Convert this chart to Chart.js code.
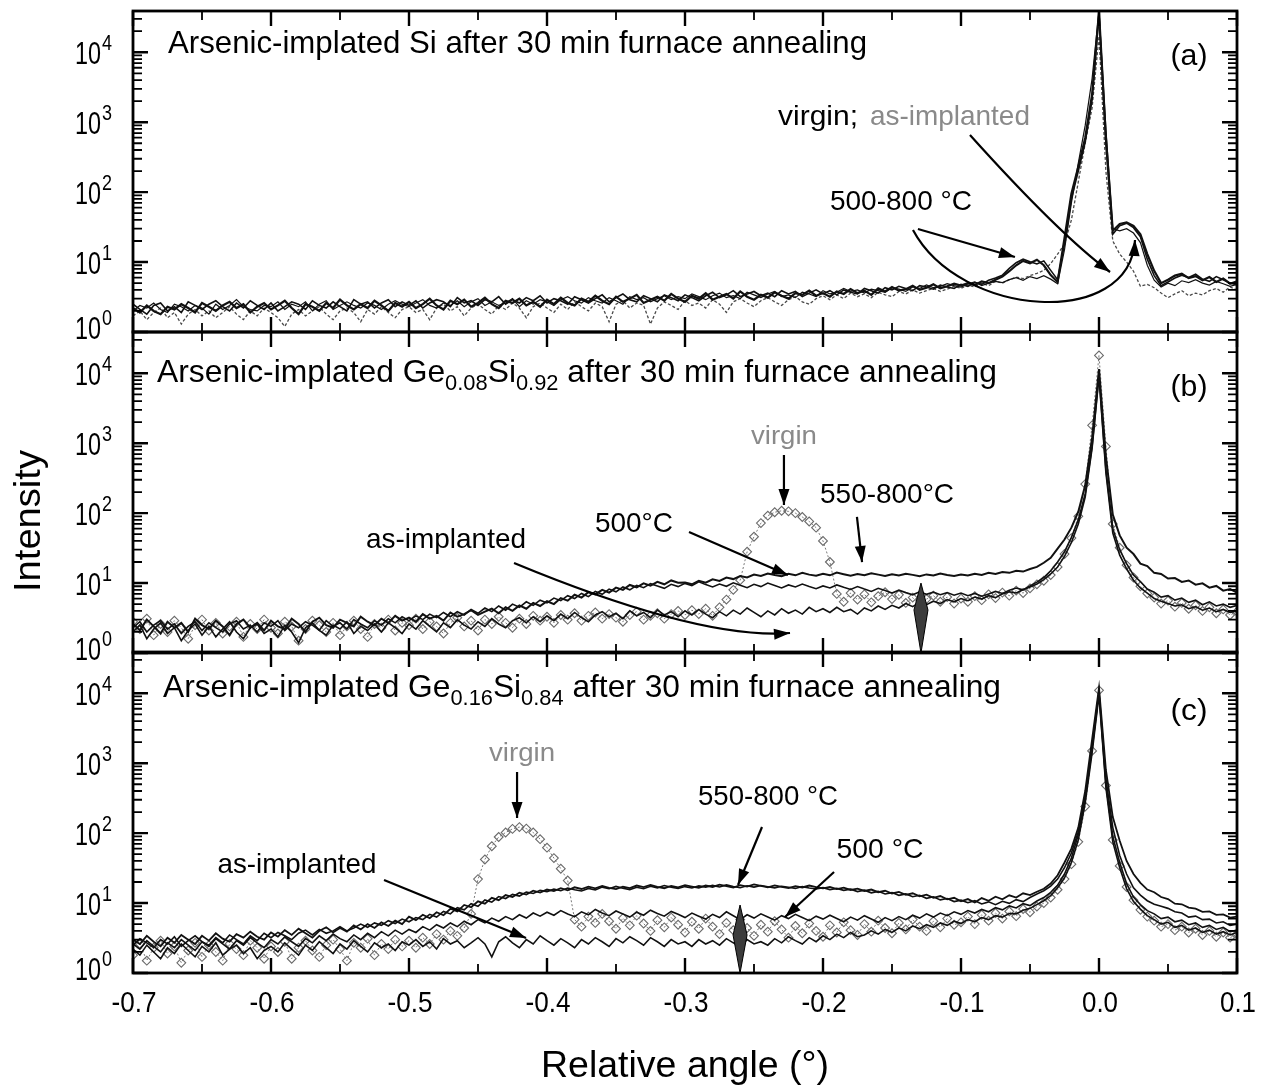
<!DOCTYPE html>
<html>
<head>
<meta charset="utf-8">
<script src="https://cdn.jsdelivr.net/npm/chart.js@4.4.0/dist/chart.umd.min.js"></script>
<style>
  body { margin: 0; background: #fff; }
  #wrap { position: relative; width: 1264px; height: 1092px; }
  #wrap canvas { position: absolute; left: 0; top: 0; }
</style>
</head>
<body>
<div id="wrap">
  <canvas id="panelA" width="1264" height="1092"></canvas>
  <canvas id="panelB" width="1264" height="1092"></canvas>
  <canvas id="panelC" width="1264" height="1092"></canvas>
</div>
<script>
/* ------------------- RELATIVE ANGLE (deg) ------------------- */
const angle = [
  -0.7,-0.695,-0.69,-0.685,-0.68,-0.675,-0.67,-0.665,-0.66,-0.655,-0.65,-0.645,-0.64,-0.635,-0.63,-0.625,-0.62,-0.615,-0.61,-0.605,
  -0.6,-0.595,-0.59,-0.585,-0.58,-0.575,-0.57,-0.565,-0.56,-0.555,-0.55,-0.545,-0.54,-0.535,-0.53,-0.525,-0.52,-0.515,-0.51,-0.505,
  -0.5,-0.495,-0.49,-0.485,-0.48,-0.475,-0.47,-0.465,-0.46,-0.455,-0.45,-0.445,-0.44,-0.435,-0.43,-0.425,-0.42,-0.415,-0.41,-0.405,
  -0.4,-0.395,-0.39,-0.385,-0.38,-0.375,-0.37,-0.365,-0.36,-0.355,-0.35,-0.345,-0.34,-0.335,-0.33,-0.325,-0.32,-0.315,-0.31,-0.305,
  -0.3,-0.295,-0.29,-0.285,-0.28,-0.275,-0.27,-0.265,-0.26,-0.255,-0.25,-0.245,-0.24,-0.235,-0.23,-0.225,-0.22,-0.215,-0.21,-0.205,
  -0.2,-0.195,-0.19,-0.185,-0.18,-0.175,-0.17,-0.165,-0.16,-0.155,-0.15,-0.145,-0.14,-0.135,-0.13,-0.125,-0.12,-0.115,-0.11,-0.105,
  -0.1,-0.095,-0.09,-0.085,-0.08,-0.075,-0.07,-0.065,-0.06,-0.055,-0.05,-0.045,-0.04,-0.035,-0.03,-0.025,-0.02,-0.015,-0.01,-0.005,
  0,0.005,0.01,0.015,0.02,0.025,0.03,0.035,0.04,0.045,0.05,0.055,0.06,0.065,0.07,0.075,0.08,0.085,0.09,0.095,
  0.1
];

/* ------------------- (a) As-implanted Si ------------------- */
const siAnnealHi = [
  2.2,1.9,2.4,2.0,1.8,2.3,2.1,2.5,2.2,1.9,2.6,2.3,2.0,2.4,2.7,2.2,2.5,1.9,2.3,2.6,
  2.1,2.4,2.8,2.2,1.8,2.5,2.3,2.0,2.6,2.2,2.9,2.4,2.1,2.5,2.2,2.8,2.4,2.0,2.6,2.3,
  2.7,2.2,2.5,3.0,2.4,2.1,2.8,2.5,2.9,2.3,2.6,3.1,2.5,2.2,2.8,2.6,3.0,2.4,2.7,2.3,
  2.9,2.5,3.1,2.6,2.4,3.0,2.7,3.3,2.8,2.5,3.2,2.7,3.0,3.4,2.6,2.9,3.2,2.8,3.5,3.0,
  2.7,3.3,3.0,3.6,2.9,3.2,3.5,3.0,3.8,3.2,2.9,3.4,3.1,3.7,3.3,3.0,3.6,3.4,3.9,3.3,
  3.6,3.2,3.8,3.5,4.1,3.6,3.9,3.4,4.2,3.8,4.4,3.9,4.1,4.6,4.0,4.3,4.8,4.2,4.5,4.9,
  4.6,5.0,4.7,5.3,5.0,5.6,6.2,7.4,9.0,10.4,9.6,10.8,9.0,6.5,5.2,22,95,230,600,2500,
  38000,600,28,35,37,33,25,13,7.5,5.0,5.6,6.4,6.8,5.9,6.3,5.5,6.1,5.2,5.8,4.9,
  5.3
];
const siAnnealLo = [
  2.5,2.1,1.8,2.4,2.6,2.0,2.3,1.9,2.7,2.4,2.1,2.5,2.8,2.3,2.0,2.6,2.2,2.8,2.4,2.1,
  2.6,2.0,2.3,2.7,2.5,2.1,2.8,2.4,2.2,2.7,2.3,2.0,2.9,2.5,2.7,2.2,2.6,2.9,2.3,2.7,
  2.4,2.8,2.2,2.6,2.9,2.7,2.3,3.1,2.6,2.8,2.4,2.9,2.7,3.2,2.5,2.9,2.6,3.1,2.8,3.3,
  2.6,3.0,2.8,2.5,3.2,2.9,2.6,3.0,3.4,2.7,3.1,3.5,2.9,2.7,3.3,3.0,2.7,3.4,3.1,2.8,
  3.4,3.1,2.8,3.3,3.7,3.1,3.4,3.9,3.2,3.5,3.8,3.3,3.6,3.2,3.9,3.5,3.8,3.2,3.6,4.0,
  3.5,3.9,3.4,4.0,3.7,3.5,4.2,3.9,3.6,4.3,4.0,4.5,4.2,3.9,4.6,4.4,4.1,4.7,4.4,4.2,
  4.8,4.5,5.1,4.8,5.5,5.9,6.5,8.1,9.8,11.0,10.1,9.4,10.4,7.6,5.6,18,80,200,520,2100,
  36000,500,25,33,36,31,23,11,6.4,4.6,5.2,5.9,6.5,6.0,6.7,5.7,5.3,6.2,5.6,5.0,
  4.7
];
const siVirgin = [
  2.0,2.4,2.2,2.6,2.1,1.9,2.5,2.3,2.0,2.4,2.2,1.8,2.5,2.1,2.4,2.9,2.3,2.1,2.0,2.4,
  2.3,2.7,2.1,2.5,2.3,2.7,2.0,2.5,2.8,2.1,2.4,2.7,2.4,2.2,2.6,2.4,2.1,2.5,2.8,2.5,
  2.3,2.6,2.9,2.4,2.2,2.6,2.4,2.8,2.3,2.7,3.0,2.4,2.7,2.4,2.6,3.0,2.3,2.8,2.5,2.9,
  2.7,2.4,2.9,3.2,2.8,2.6,3.1,2.8,2.6,3.1,2.8,2.5,3.2,2.9,3.1,2.7,3.0,3.3,2.9,3.2,
  3.0,3.5,3.2,2.9,3.3,3.6,3.1,3.3,3.0,3.7,3.4,3.1,3.5,3.8,3.2,3.4,3.1,3.7,3.5,3.2,
  3.9,3.5,3.7,4.2,3.8,4.0,3.6,4.1,3.9,3.7,4.3,4.1,3.8,4.4,4.2,4.7,4.3,4.5,4.9,4.6,
  4.4,4.9,5.2,4.6,5.0,5.3,5.1,5.6,6.0,5.5,6.2,5.8,6.4,5.7,4.9,15,70,260,900,4200,
  39000,800,30,28,30,26,19,9,5.5,4.4,5.0,4.6,5.4,5.1,5.6,5.0,4.7,5.3,4.9,4.5,
  4.8
];
const siImplanted = [
  1.7,2.0,1.5,1.9,2.2,1.6,1.9,1.3,1.8,2.1,1.7,2.0,1.6,1.9,2.3,1.8,1.5,2.0,1.7,2.2,
  1.9,1.6,1.2,1.8,2.1,1.7,2.0,2.3,1.8,1.5,2.0,2.2,1.9,1.4,2.1,1.8,2.3,1.9,1.6,2.1,
  2.3,1.9,2.1,1.5,2.2,2.5,2.0,2.3,1.7,2.2,2.5,2.1,1.8,2.4,2.1,2.6,2.2,1.6,2.3,2.6,
  2.2,1.9,2.5,2.1,2.7,2.3,2.0,2.6,2.3,1.4,2.5,2.8,2.2,2.6,2.4,1.3,2.2,2.7,2.4,2.1,
  2.8,2.4,2.6,2.2,2.9,2.5,1.9,2.7,3.0,2.6,2.3,2.8,3.1,2.7,2.4,2.9,3.2,2.7,2.5,3.0,
  3.3,2.9,3.4,3.0,3.6,3.2,3.5,3.1,3.7,3.4,3.2,3.8,3.5,4.0,3.6,3.9,4.2,3.8,4.1,4.5,
  4.2,4.7,4.4,5.0,4.6,5.3,5.0,5.6,6.1,5.8,6.4,6.9,7.6,9.5,13,18,40,140,500,1600,
  17000,200,20,13,10,7.4,4.5,4.8,4.3,3.6,3.1,3.5,3.9,3.3,3.6,3.4,3.9,4.2,3.7,4.4,
  4.0
];

/* ------------------- (b) Ge0.08Si0.92 ------------------- */
const ge08Anneal800 = [
  2.6,2.1,3.0,2.4,1.9,2.8,2.3,2.7,2.0,3.1,2.5,2.2,2.9,2.4,1.8,2.6,3.0,2.3,2.7,2.1,
  2.9,2.4,2.2,3.1,2.6,2.0,2.8,3.2,2.5,2.3,3.0,2.7,2.4,3.3,2.8,2.5,3.1,2.7,3.4,2.9,
  3.2,2.8,3.6,3.1,3.4,2.9,3.8,3.3,3.6,4.1,3.5,3.9,4.3,3.7,4.5,4.0,4.8,4.3,5.2,4.7,
  5.5,5.0,6.1,5.6,6.8,6.2,7.4,6.9,8.0,7.3,8.6,8.0,9.4,8.7,9.9,9.2,10.4,9.6,10.9,10.1,
  10.2,9.6,10.8,10.1,11.3,10.7,12.0,11.4,12.6,12.0,13.2,12.6,13.7,13.0,12.5,13.6,12.9,14.0,13.2,12.7,
  13.6,12.9,14.1,13.4,12.7,13.5,12.9,13.8,13.2,12.6,13.4,12.8,13.6,13.1,12.5,13.3,12.8,13.7,13.0,12.6,
  13.2,12.8,13.6,13.1,14.0,13.5,14.4,14.0,15.0,14.6,15.9,17.0,19.5,23,31,42,62,105,250,1200,
  11500,650,95,48,32,26,19,17.5,14,13.5,11.6,11.8,10.4,10.9,9.5,9.9,8.6,9.1,7.8,8.2,
  7.3
];
const ge08Anneal500 = [
  2.3,2.8,2.0,2.5,2.9,2.2,2.6,1.9,2.4,2.8,2.1,2.7,2.3,2.0,2.6,2.9,2.2,2.5,2.0,2.7,
  2.4,2.9,2.1,2.6,2.3,2.8,2.5,2.1,2.9,2.4,2.7,2.2,3.0,2.6,2.3,2.9,2.5,3.1,2.7,3.3,
  2.9,3.4,3.0,3.6,3.2,3.8,3.3,3.9,3.5,4.2,3.7,4.4,3.9,4.7,4.1,5.0,4.5,5.4,4.8,5.7,
  5.2,6.1,5.6,6.6,6.0,7.1,6.4,7.6,6.9,8.2,7.5,8.8,8.0,9.3,8.6,9.8,9.1,8.4,9.6,8.9,
  9.9,9.2,10.4,9.5,8.8,9.7,9.0,10.1,9.3,8.6,9.6,8.9,10.0,9.2,8.5,9.4,8.8,9.7,8.9,8.3,
  9.1,8.5,9.4,8.7,8.1,8.9,8.2,7.6,8.4,7.8,7.2,7.9,7.3,6.8,7.5,6.9,7.4,6.8,7.3,6.7,
  7.2,6.6,7.1,6.5,7.0,7.6,7.1,7.9,8.5,8.0,9.1,10.3,12.0,15,20,28,45,80,190,900,
  9500,420,60,30,19,13,10.5,8.2,7.4,6.3,6.6,5.7,6.1,5.3,5.7,4.9,5.4,4.7,5.0,4.5,
  4.8
];
const ge08Implanted = [
  2.0,2.5,1.6,2.2,2.7,1.9,2.3,1.5,2.1,2.6,1.8,2.4,1.7,2.2,2.8,2.0,1.6,2.3,2.6,1.9,
  2.2,1.7,2.5,2.0,1.4,2.3,2.7,2.1,1.8,2.5,2.2,2.8,1.9,2.4,2.1,2.6,2.0,2.7,2.3,1.9,
  2.6,2.2,2.9,2.4,2.0,2.7,2.3,3.0,2.5,2.2,2.8,2.4,3.1,2.6,2.3,2.9,3.2,2.7,3.3,2.8,
  3.4,2.9,3.6,3.1,3.8,3.2,2.8,3.5,3.9,3.3,3.7,3.1,4.0,3.4,3.8,3.2,4.1,3.5,3.9,3.3,
  4.0,3.5,4.2,3.6,3.2,3.9,3.4,4.1,3.6,4.4,3.8,3.3,4.0,3.5,4.3,3.7,4.1,3.6,4.5,3.9,
  4.3,3.8,4.5,3.9,4.2,3.6,4.4,4.0,4.7,4.2,4.8,4.4,5.1,4.6,5.3,4.9,5.5,5.1,5.8,5.4,
  6.0,5.6,6.3,5.9,6.6,6.2,7.0,7.5,7.2,8.0,8.8,9.7,11.2,13.5,17,24,38,70,170,850,
  9000,380,52,25,16,11,8.5,7.2,6.0,5.5,5.1,4.7,4.9,4.3,4.6,4.1,4.4,3.9,4.2,3.8,
  4.0
];
const ge08Virgin = [
  2.8,2.2,3.1,1.8,2.6,2.0,2.9,2.3,1.6,2.5,3.0,2.1,2.7,1.9,2.4,2.8,1.7,2.6,2.2,3.0,
  2.3,1.9,2.8,2.4,1.5,2.2,2.9,2.5,2.0,2.7,1.8,2.4,2.9,2.2,1.7,2.6,2.3,3.0,2.1,2.7,
  2.5,3.1,2.2,2.8,2.4,1.9,2.7,3.2,2.4,2.9,2.1,3.0,2.6,3.3,2.7,2.3,3.1,2.6,3.4,2.9,
  3.3,2.7,3.5,3.0,3.7,2.9,3.4,3.8,3.1,3.6,3.2,2.8,3.5,3.9,3.0,3.4,3.7,3.1,3.6,4.0,
  3.5,4.1,3.6,4.3,3.4,4.5,5.8,8.0,11,28,46,72,92,103,108,106,100,88,76,62,
  40,20,7.0,5.4,7.2,5.8,6.9,5.3,6.5,7.4,5.9,6.8,5.2,6.2,4.8,5.9,6.6,5.4,6.3,5.1,
  6.0,5.4,6.5,5.7,6.9,6.1,7.3,6.6,7.8,7.2,8.4,9.6,10.8,13,17,26,44,90,260,1800,
  18000,900,70,32,18,12,9.0,7.1,6.2,5.1,5.6,4.6,5.2,4.3,4.8,4.0,4.5,3.7,4.2,3.5,
  3.9
];

/* ------------------- (c) Ge0.16Si0.84 ------------------- */
const ge16Anneal800a = [
  3.0,2.6,3.4,2.8,2.4,3.2,2.7,3.5,3.0,2.6,3.4,2.9,3.7,3.1,2.8,3.6,3.2,3.9,3.3,3.0,
  3.8,3.3,4.1,3.5,4.3,3.7,3.2,4.0,4.5,3.8,4.4,3.9,4.8,4.2,5.0,4.4,5.3,4.7,5.6,5.0,
  6.4,5.7,6.8,6.1,7.4,6.7,8.3,7.6,9.4,8.7,10.6,9.8,11.9,11.0,13.0,12.2,14.1,13.2,15.0,14.1,
  15.6,14.8,16.3,15.2,16.8,15.9,17.2,16.2,17.6,16.5,15.8,17.1,16.4,17.8,16.9,18.2,17.1,16.3,17.6,16.8,
  18.0,17.2,16.5,17.8,17.0,18.3,17.4,16.7,18.0,17.2,18.5,17.6,16.8,17.9,17.1,16.4,17.5,16.7,17.8,16.9,
  16.2,17.0,15.8,16.6,15.4,16.1,14.9,15.6,14.3,15.0,13.7,14.4,13.1,13.8,12.5,13.2,11.9,12.6,11.3,11.9,
  10.6,11.4,10.2,11.8,10.8,12.3,11.3,12.9,12.0,13.8,13.0,14.5,16,19,25,38,60,120,400,2200,
  12000,800,170,78,40,26,19.5,15.6,14.3,12.2,11.4,9.8,9.6,8.6,8.3,7.5,7.6,6.8,6.9,6.2,
  6.4
];
const ge16Anneal800b = [
  2.5,3.1,2.7,2.3,3.0,2.6,3.3,2.4,2.9,3.4,2.8,2.5,3.2,2.7,3.5,3.0,2.6,3.4,2.9,3.7,
  3.2,3.8,3.4,3.0,3.7,4.1,3.5,4.2,3.7,4.0,4.6,4.0,4.4,5.0,4.5,5.2,4.8,5.6,5.1,5.9,
  5.4,6.2,5.8,6.9,6.3,7.6,7.0,8.6,8.0,9.8,9.0,11.1,10.3,12.4,11.6,13.3,12.6,14.4,13.7,15.2,
  14.6,15.8,15.0,16.4,15.5,14.9,16.2,15.4,16.9,16.0,17.3,16.3,15.6,16.8,16.0,17.4,16.5,17.8,16.8,16.2,
  17.2,16.4,17.6,16.9,17.9,17.0,18.2,17.3,16.6,17.7,16.9,17.8,17.1,16.5,17.4,16.8,16.2,17.2,16.4,15.9,
  16.6,15.6,16.2,15.2,15.8,14.6,15.3,14.0,14.7,13.5,14.1,12.9,13.5,12.3,12.9,11.7,12.3,11.1,11.6,10.5,
  11.0,10.1,10.8,9.7,10.4,9.5,10.6,9.9,11.2,10.5,12.0,13.5,15,17.5,22,32,52,105,330,1800,
  10500,600,120,48,26,16.5,13,10.8,9.6,9.0,8.4,7.5,7.2,6.3,6.5,5.8,5.9,5.2,5.4,4.8,
  5.0
];
const ge16Anneal500 = [
  2.6,2.2,2.9,2.4,2.0,2.7,2.3,3.0,2.5,2.1,2.8,2.4,3.1,2.6,2.2,2.9,2.5,3.2,2.7,2.3,
  3.0,2.6,3.3,2.8,2.4,3.1,2.7,3.4,2.9,3.6,3.1,2.8,3.5,3.0,3.7,3.2,3.9,3.4,4.1,3.6,
  4.2,3.8,4.6,4.1,4.9,4.4,5.2,4.6,5.5,4.9,5.8,5.2,6.1,5.5,6.4,5.8,6.8,6.1,7.2,6.5,
  7.4,6.7,7.8,7.0,6.4,7.5,6.8,8.1,7.2,6.6,7.7,7.0,6.3,7.4,6.7,7.9,7.1,6.5,7.6,6.9,
  6.2,7.2,6.5,5.9,6.9,6.2,7.5,6.6,5.8,6.8,6.1,7.0,6.3,5.7,6.6,6.0,6.9,6.2,5.6,6.5,
  5.9,6.7,6.0,5.4,6.3,5.7,6.6,5.9,5.3,6.2,5.6,6.4,5.8,6.7,6.1,7.0,6.3,7.2,6.6,7.5,
  6.9,7.8,7.2,8.1,7.5,8.6,8.0,9.1,8.5,9.8,9.2,10.7,12.0,14.2,18,26,44,95,310,1600,
  10000,500,90,38,19,12.2,9.5,7.8,7.0,6.0,6.3,5.4,5.7,4.9,5.2,4.5,4.8,4.2,4.5,3.9,
  4.1
];
const ge16Implanted = [
  2.2,1.8,2.5,2.0,1.6,2.3,1.9,2.6,2.1,1.7,2.4,2.0,2.7,1.8,2.2,2.5,1.9,2.3,1.6,2.1,
  2.4,2.0,2.7,2.2,1.8,2.5,2.1,2.8,2.3,1.9,2.6,2.2,2.9,2.4,2.0,2.7,2.3,2.6,2.1,2.8,
  2.5,3.0,2.4,2.8,2.2,3.1,2.6,2.9,2.3,2.7,3.2,2.6,1.7,2.8,3.3,2.7,2.3,3.0,2.6,3.4,
  2.9,2.5,3.1,2.7,2.3,3.0,2.6,3.2,2.8,2.4,3.1,2.7,3.3,2.9,2.5,3.2,2.8,2.4,3.0,2.6,
  2.8,2.4,3.0,2.6,2.9,2.5,3.1,2.7,2.4,3.0,2.6,2.8,2.5,3.1,2.7,3.3,2.9,2.6,3.2,2.8,
  3.4,3.0,3.6,3.2,3.8,3.3,3.5,4.0,3.6,4.2,3.8,4.4,4.0,4.7,4.3,4.9,4.5,5.2,4.8,5.5,
  5.1,5.8,5.4,6.2,5.8,6.6,6.3,7.1,7.0,7.9,8.4,9.5,10.8,12.8,16.5,23,38,80,270,1400,
  9500,450,75,32,16,10.5,8.2,6.6,5.8,5.0,5.3,4.5,4.8,4.1,4.4,3.8,4.1,3.6,3.9,3.5,
  3.8
];
const ge16Virgin = [
  1.8,2.6,1.5,2.3,2.9,1.9,2.4,1.4,2.1,2.7,1.7,2.5,2.0,1.5,2.6,2.2,1.8,2.9,2.3,1.6,
  2.4,2.0,2.8,1.6,2.3,2.9,2.1,1.7,2.5,3.0,2.2,1.5,2.7,2.3,3.1,1.8,2.6,2.2,3.0,2.4,
  2.9,2.3,3.2,2.6,3.6,3.0,4.0,3.4,4.4,7.0,22,42,65,88,102,115,122,116,102,82,
  62,44,31,21,5.8,4.6,6.4,5.2,7.0,5.5,4.3,6.1,4.8,6.6,5.1,4.0,5.7,4.5,6.2,4.9,
  3.8,5.4,4.3,6.0,4.6,3.6,5.2,4.1,5.8,4.4,3.4,4.9,3.9,5.5,4.2,3.2,4.7,3.7,5.1,4.0,
  3.3,4.8,3.8,5.3,4.1,3.5,5.0,3.9,5.6,4.4,3.7,5.2,4.2,5.8,4.6,4.0,5.5,4.5,6.0,4.9,
  5.3,6.4,5.0,6.8,5.6,7.2,6.0,7.6,6.5,8.2,7.4,8.9,10.0,12.0,15.5,22,36,75,240,1500,
  11000,480,80,34,17,11,8.0,6.4,5.6,4.6,5.0,4.1,4.6,3.8,4.3,3.5,4.0,3.3,3.8,3.2,
  3.6
];

/* ------------------- AXES ------------------- */
const xTickValues = [-0.7, -0.6, -0.5, -0.4, -0.3, -0.2, -0.1, 0.0, 0.1];
const xTickLabels = ["-0.7", "-0.6", "-0.5", "-0.4", "-0.3", "-0.2", "-0.1", "0.0", "0.1"];
const yDecades = [1, 10, 100, 1000, 10000];
const yExponents = ["0", "1", "2", "3", "4"];
const Y_MAX = 38900;

/* ------------------- HELPERS ------------------- */
const FONT = "'Liberation Sans', Arial, Helvetica, sans-serif";

function pts(vals) {
  return angle.map((x, i) => ({ x, y: vals[i] }));
}

function solid(vals, w) {
  return { data: pts(vals), borderColor: "#111", borderWidth: w, pointRadius: 0, tension: 0 };
}

function dotted(vals) {
  return { data: pts(vals), borderColor: "#4a4a4a", borderWidth: 1.3, borderDash: [3, 2], pointRadius: 0, tension: 0 };
}

function diamonds(vals) {
  return {
    data: pts(vals), borderColor: "#7a7a7a", borderWidth: 1, borderDash: [2, 2], tension: 0,
    pointStyle: "rectRot", pointRadius: 4.4, pointBorderWidth: 1.1,
    pointBorderColor: "#6a6a6a", pointBackgroundColor: "rgba(255,255,255,0)"
  };
}

// draw text squeezed/stretched to a given advance width
function fitText(ctx, str, x, base, size, width, color, align) {
  ctx.save();
  ctx.font = size + "px " + FONT;
  const natural = ctx.measureText(str).width;
  ctx.translate(x, base);
  ctx.scale(width ? width / natural : 1, 1);
  ctx.textAlign = align || "center";
  ctx.textBaseline = "alphabetic";
  ctx.fillStyle = color || "#000";
  ctx.fillText(str, 0, 0);
  ctx.restore();
}

// title with subscripts, laid out left to right and fitted to width
function drawTitle(ctx, parts, left, base, size, width) {
  const subSize = Math.round(size * 0.68);
  ctx.save();
  const widths = parts.map((p) => {
    ctx.font = (p.sub ? subSize : size) + "px " + FONT;
    return ctx.measureText(p.t).width;
  });
  const total = widths.reduce((s, w) => s + w, 0);
  ctx.translate(left, base);
  ctx.scale(width / total, 1);
  ctx.fillStyle = "#000";
  ctx.textAlign = "left";
  ctx.textBaseline = "alphabetic";
  let cx = 0;
  parts.forEach((p, i) => {
    ctx.font = (p.sub ? subSize : size) + "px " + FONT;
    ctx.fillText(p.t, cx, p.sub ? size * 0.24 : 0);
    cx += widths[i];
  });
  ctx.restore();
}

function drawArrow(ctx, p) {
  ctx.beginPath();
  ctx.moveTo(p[0][0], p[0][1]);
  if (p.length === 2) ctx.lineTo(p[1][0], p[1][1]);
  else if (p.length === 3) ctx.quadraticCurveTo(p[1][0], p[1][1], p[2][0], p[2][1]);
  else ctx.bezierCurveTo(p[1][0], p[1][1], p[2][0], p[2][1], p[3][0], p[3][1]);
  ctx.stroke();

  const tip = p[p.length - 1], from = p[p.length - 2];
  const a = Math.atan2(tip[1] - from[1], tip[0] - from[0]);
  const L = 16, H = 5.5;
  ctx.beginPath();
  ctx.moveTo(tip[0], tip[1]);
  ctx.lineTo(tip[0] - L * Math.cos(a) + H * Math.sin(a), tip[1] - L * Math.sin(a) - H * Math.cos(a));
  ctx.lineTo(tip[0] - L * Math.cos(a) - H * Math.sin(a), tip[1] - L * Math.sin(a) + H * Math.cos(a));
  ctx.closePath();
  ctx.fill();
}

/* ------------------- FRAME, TICKS, LABELS, NOTES ------------------- */
function decor(spec) {
  return {
    id: "decor" + spec.key,
    afterDatasetsDraw(chart) {
      const { ctx, chartArea: a, scales: { x, y } } = chart;
      const X = (v) => x.getPixelForValue(v);
      const Y = (v) => y.getPixelForValue(v);
      ctx.save();
      ctx.strokeStyle = "#000";
      ctx.fillStyle = "#000";

      // y ticks (both sides, inward)
      for (let k = 0; k < yDecades.length; k++) {
        for (let m = 1; m <= 9; m++) {
          const v = m * yDecades[k];
          if (v > Y_MAX) break;
          const py = Y(v);
          const len = m === 1 ? 15 : 9;
          ctx.lineWidth = m === 1 ? 2.4 : 1.8;
          ctx.beginPath();
          ctx.moveTo(a.left, py); ctx.lineTo(a.left + len, py);
          ctx.moveTo(a.right, py); ctx.lineTo(a.right - len, py);
          ctx.stroke();
        }
      }
      // x ticks (top and bottom, inward)
      for (let i = 0; i <= 16; i++) {
        const px = X(-0.7 + i * 0.05);
        const len = i % 2 === 0 ? 15 : 9;
        ctx.lineWidth = i % 2 === 0 ? 2.4 : 1.8;
        ctx.beginPath();
        ctx.moveTo(px, a.bottom); ctx.lineTo(px, a.bottom - len);
        ctx.moveTo(px, a.top); ctx.lineTo(px, a.top + len);
        ctx.stroke();
      }
      ctx.lineWidth = 2.8;
      ctx.strokeRect(a.left, a.top, a.right - a.left, a.bottom - a.top);

      // y tick labels
      yDecades.forEach((v, i) => {
        const py = Y(v) - (i === 0 ? 5 : 0);
        fitText(ctx, "10", a.left - 32, py + 12, 31, 26, "#000", "right");
        fitText(ctx, yExponents[i], a.left - 31, py - 2, 22, 10, "#000", "left");
      });

      // panel title and tag
      drawTitle(ctx, spec.title, a.left + spec.titleAt[0], a.top + spec.titleAt[1], 32, spec.titleAt[2]);
      fitText(ctx, spec.tag, a.right - 48, a.top + spec.tagAt, 30, 37);

      // notes
      spec.notes.forEach((n) => {
        fitText(ctx, n.t, X(n.x), Y(n.y) + n.size * 0.36, n.size, n.w, n.color);
      });

      // arrows
      ctx.lineWidth = 2.2;
      ctx.strokeStyle = "#000";
      ctx.fillStyle = "#000";
      spec.arrows.forEach((arr) => drawArrow(ctx, arr.map((q) => [X(q[0]), Y(q[1])])));

      // peak position marker
      if (spec.kite) {
        const k = spec.kite;
        const cx = X(k.x);
        ctx.beginPath();
        ctx.moveTo(cx, Y(k.top));
        ctx.lineTo(cx + 7, Y(k.mid));
        ctx.lineTo(cx, Y(1));
        ctx.lineTo(cx - 7, Y(k.mid));
        ctx.closePath();
        ctx.fillStyle = "#3c3c3c";
        ctx.fill();
        ctx.lineWidth = 1;
        ctx.stroke();
      }

      // shared axis labels on the bottom panel
      if (spec.axes) {
        xTickValues.forEach((v, i) => {
          fitText(ctx, xTickLabels[i], X(v) + 1, a.bottom + 39, 29, i < 7 ? 45 : 36);
        });
        fitText(ctx, "Relative angle (\u00b0)", (a.left + a.right) / 2, a.bottom + 104, 36, 288);
        ctx.save();
        ctx.translate(40, 521);
        ctx.rotate(-Math.PI / 2);
        fitText(ctx, "Intensity", 0, 0, 37, 142);
        ctx.restore();
      }
      ctx.restore();
    }
  };
}

/* ------------------- PANEL SPECS ------------------- */
const specA = {
  key: "A", top: 11, bottom: 332,
  title: [{ t: "Arsenic-implated Si after 30 min furnace annealing" }],
  titleAt: [35, 42, 699], tag: "(a)", tagAt: 54,
  notes: [
    { t: "virgin;", x: -0.2036, y: 1268, size: 28, w: 80, color: "#000" },
    { t: "as-implanted", x: -0.108, y: 1268, size: 28, w: 160, color: "#8a8a8a" },
    { t: "500-800 \u00b0C", x: -0.1435, y: 77.2, size: 28, w: 142, color: "#000" }
  ],
  arrows: [
    [[-0.0935, 656], [-0.0283, 24.4], [0.008, 7.21]],
    [[-0.1312, 29.7], [-0.0609, 11.8]],
    [[-0.1348, 28.7], [-0.1007, 1.586], [0.0225, 1.068], [0.0261, 20.7]]
  ],
  kite: null, axes: false
};

const specB = {
  key: "B", top: 332, bottom: 653,
  title: [{ t: "Arsenic-implated Ge" }, { t: "0.08", sub: true }, { t: "Si" }, { t: "0.92", sub: true }, { t: " after 30 min furnace annealing" }],
  titleAt: [24, 50, 840], tag: "(b)", tagAt: 64,
  notes: [
    { t: "virgin", x: -0.2283, y: 1310, size: 26, w: 66, color: "#8a8a8a" },
    { t: "550-800\u00b0C", x: -0.1536, y: 194, size: 28, w: 134, color: "#000" },
    { t: "500\u00b0C", x: -0.337, y: 74.7, size: 28, w: 78, color: "#000" },
    { t: "as-implanted", x: -0.4732, y: 44.1, size: 28, w: 160, color: "#000" }
  ],
  arrows: [
    [[-0.2283, 678], [-0.2283, 130.7]],
    [[-0.1754, 88.1], [-0.1717, 20.0]],
    [[-0.2971, 53.7], [-0.2254, 13.0]],
    [[-0.4239, 19.4], [-0.2891, 1.535], [-0.2239, 1.932]]
  ],
  kite: { x: -0.129, top: 10.0, mid: 4.12 }, axes: false
};

const specC = {
  key: "C", top: 652, bottom: 973,
  title: [{ t: "Arsenic-implated Ge" }, { t: "0.16", sub: true }, { t: "Si" }, { t: "0.84", sub: true }, { t: " after 30 min furnace annealing" }],
  titleAt: [30, 45, 838], tag: "(c)", tagAt: 68,
  notes: [
    { t: "virgin", x: -0.4181, y: 1446, size: 26, w: 66, color: "#8a8a8a" },
    { t: "550-800 \u00b0C", x: -0.2399, y: 351, size: 28, w: 140, color: "#000" },
    { t: "500 \u00b0C", x: -0.1587, y: 61.3, size: 28, w: 87, color: "#000" },
    { t: "as-implanted", x: -0.5812, y: 37.4, size: 28, w: 159, color: "#000" }
  ],
  arrows: [
    [[-0.4217, 749], [-0.4217, 164.6]],
    [[-0.2442, 122.4], [-0.2616, 18.1]],
    [[-0.192, 27.8], [-0.2275, 6.32]],
    [[-0.5181, 21.4], [-0.4152, 3.17]]
  ],
  kite: { x: -0.2601, top: 9.38, mid: 3.49 }, axes: true
};

/* ------------------- CHARTS ------------------- */
function makePanel(id, spec, sets) {
  return new Chart(document.getElementById(id), {
    type: "line",
    data: { datasets: sets },
    options: {
      responsive: false,
      animation: false,
      devicePixelRatio: 1,
      events: [],
      layout: { padding: { left: 133, right: 27, top: spec.top, bottom: 1092 - spec.bottom } },
      scales: {
        x: { type: "linear", min: -0.7, max: 0.1, display: false },
        y: { type: "logarithmic", min: 1, max: Y_MAX, display: false }
      },
      plugins: { legend: { display: false }, tooltip: { enabled: false } }
    },
    plugins: [decor(spec)]
  });
}

makePanel("panelA", specA, [
  solid(siAnnealHi, 2.2),
  solid(siAnnealLo, 1.6),
  solid(siVirgin, 1.2),
  dotted(siImplanted)
]);

makePanel("panelB", specB, [
  solid(ge08Anneal800, 2.0),
  solid(ge08Anneal500, 1.6),
  solid(ge08Implanted, 1.6),
  diamonds(ge08Virgin)
]);

makePanel("panelC", specC, [
  solid(ge16Anneal800a, 1.8),
  solid(ge16Anneal800b, 1.6),
  solid(ge16Anneal500, 1.6),
  solid(ge16Implanted, 1.6),
  diamonds(ge16Virgin)
]);
</script>
</body>
</html>
